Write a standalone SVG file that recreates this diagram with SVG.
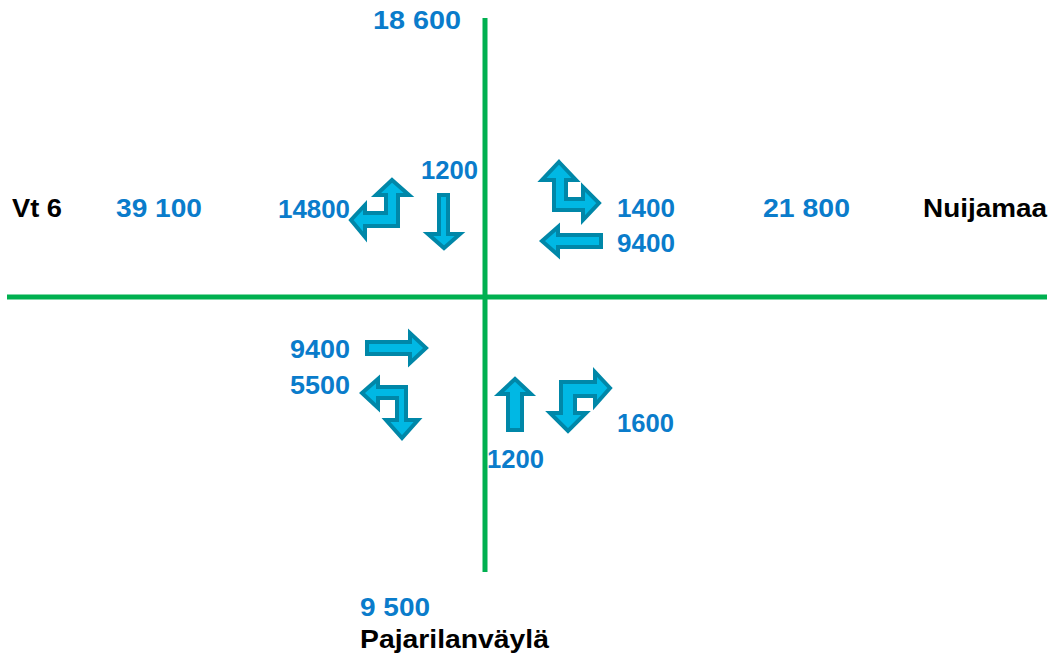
<svg xmlns="http://www.w3.org/2000/svg" width="1056" height="661" viewBox="0 0 1056 661">
<style>
.n{font-family:"Liberation Sans",Arial,sans-serif;font-weight:bold;font-size:25px;fill:#0A7CCB}
.b{font-family:"Liberation Sans",Arial,sans-serif;font-weight:bold;font-size:25px;fill:#000}
.road{stroke:#00B050;stroke-width:5;fill:none}
.arr{fill:#00B8E4;stroke:#0087A8;stroke-width:4;stroke-linejoin:miter}
</style>
<rect width="1056" height="661" fill="#fff"/>
<g id="roads">
<line class="road" x1="485" y1="18" x2="485" y2="572"/>
<line class="road" x1="7" y1="297" x2="1047" y2="297"/>
</g>
<g id="arrows">
<path id="a14800" class="arr" d="M392,180 L409,195 L398,195 L398,226 L365,226 L365,237 L351,220 L365,205 L365,213 L386,213 L386,195 L376,195 Z"/>
<path id="a1200t" class="arr" d="M439,195 L448,195 L448,234 L460,234 L444,248 L428,234 L439,234 Z"/>
<path id="a1400" class="arr" d="M559,162 L576,180 L566,180 L566,199 L583,199 L583,187 L599,203 L583,220 L583,210 L554,210 L554,180 L542,180 Z"/>
<path id="a9400r" class="arr" d="M542,241 L558,227 L558,235 L601,235 L601,247 L558,247 L558,255 Z"/>
<path id="a9400l" class="arr" d="M367,342 L410,342 L410,333 L426,348 L410,363 L410,354 L367,354 Z"/>
<path id="a5500" class="arr" d="M362,393 L378,379 L378,387 L406,387 L406,420 L418,420 L402,438 L386,420 L397,420 L397,398 L378,398 L378,408 Z"/>
<path id="a1200b" class="arr" d="M515,379 L531,394 L522,394 L522,430 L508,430 L508,394 L499,394 Z"/>
<path id="a1600" class="arr" d="M610,388 L595,372 L595,382 L561,382 L561,413 L550,413 L568,431 L586,413 L575,413 L575,396 L595,396 L595,405 Z"/>
</g>
<g id="labels">
<text class="b" x="12" y="217" textLength="50" lengthAdjust="spacingAndGlyphs">Vt 6</text>
<text class="n" x="116" y="217" textLength="86" lengthAdjust="spacingAndGlyphs">39 100</text>
<text class="n" x="278" y="218" textLength="72" lengthAdjust="spacingAndGlyphs">14800</text>
<text class="n" x="421" y="179" textLength="57" lengthAdjust="spacingAndGlyphs">1200</text>
<text class="n" x="617" y="217" textLength="58" lengthAdjust="spacingAndGlyphs">1400</text>
<text class="n" x="617" y="252" textLength="58" lengthAdjust="spacingAndGlyphs">9400</text>
<text class="n" x="763" y="217" textLength="87" lengthAdjust="spacingAndGlyphs">21 800</text>
<text class="b" x="923" y="217" textLength="124" lengthAdjust="spacingAndGlyphs">Nuijamaa</text>
<text class="n" x="373" y="29" textLength="88" lengthAdjust="spacingAndGlyphs">18 600</text>
<text class="n" x="290" y="358" textLength="60" lengthAdjust="spacingAndGlyphs">9400</text>
<text class="n" x="290" y="394" textLength="60" lengthAdjust="spacingAndGlyphs">5500</text>
<text class="n" x="617" y="432" textLength="57" lengthAdjust="spacingAndGlyphs">1600</text>
<text class="n" x="487" y="468" textLength="57" lengthAdjust="spacingAndGlyphs">1200</text>
<text class="n" x="360" y="616" textLength="70" lengthAdjust="spacingAndGlyphs">9 500</text>
<text class="b" x="360" y="648" textLength="189" lengthAdjust="spacingAndGlyphs">Pajarilanväylä</text>
</g>
</svg>
